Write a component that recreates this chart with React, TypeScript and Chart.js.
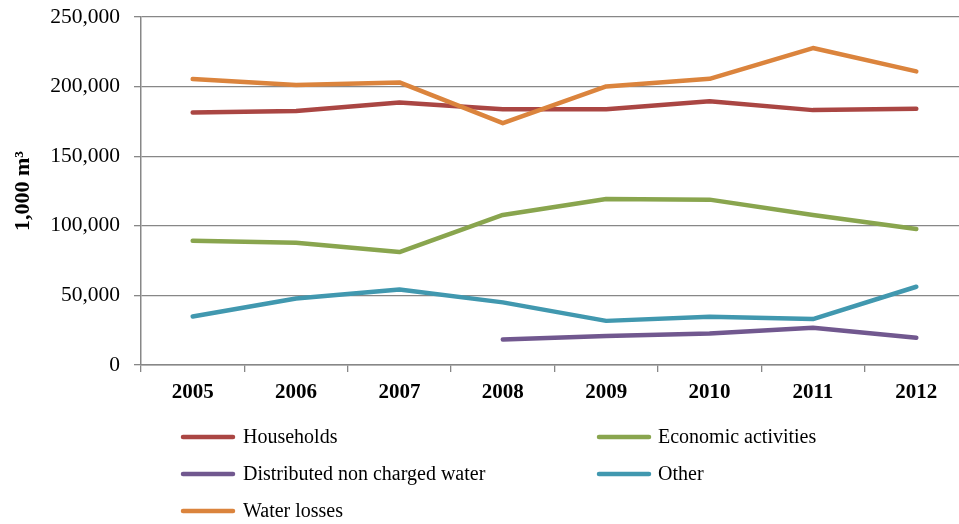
import React, { useEffect, useRef } from "react";
import { Chart, registerables } from "chart.js";

Chart.register(...registerables);

const years = ["2005", "2006", "2007", "2008", "2009", "2010", "2011", "2012"];
const households = [181400, 182400, 188500, 183800, 183800, 189500, 183100, 184000];
const economicActivities = [89300, 87800, 81100, 107800, 119300, 118800, 107800, 97700];
const distributedNonCharged = [null, null, null, 18400, 20900, 22600, 26700, 19500];
const other = [34900, 47800, 54300, 45000, 31700, 34600, 33000, 56200];
const waterLosses = [205400, 201100, 203000, 173700, 200100, 205600, 227700, 210900];
const yTicks = [0, 50000, 100000, 150000, 200000, 250000];

const FONT = '"Liberation Serif", "Times New Roman", serif';

const legendPlugin = {
  id: "twoColLegend",
  afterDraw(chart: any) {
    const ctx = chart.ctx;
    const cols = [
      { lx: 183, tx: 243 },
      { lx: 599, tx: 658 },
    ];
    const rows = [437, 474, 511];
    ctx.save();
    ctx.font = `20px ${FONT}`;
    ctx.textBaseline = "middle";
    ctx.textAlign = "left";
    chart.data.datasets.forEach((ds: any, i: number) => {
      const c = cols[i % 2];
      const y = rows[Math.floor(i / 2)];
      ctx.strokeStyle = ds.borderColor;
      ctx.lineWidth = 4.5;
      ctx.lineCap = "round";
      ctx.beginPath();
      ctx.moveTo(c.lx, y);
      ctx.lineTo(c.lx + 50, y);
      ctx.stroke();
      ctx.fillStyle = "#000";
      ctx.fillText(ds.label, c.tx, y + 1);
    });
    ctx.restore();
  },
};

export default function App() {
  const ref = useRef<HTMLCanvasElement | null>(null);
  useEffect(() => {
    if (!ref.current) return;
    const mk = (label: string, data: any[], color: string, order: number) => ({
      label,
      data,
      borderColor: color,
      backgroundColor: color,
      borderWidth: 4.5,
      pointRadius: 0,
      tension: 0,
      borderCapStyle: "round",
      borderJoinStyle: "round",
      order,
    });
    const chart = new Chart(ref.current, {
      type: "line",
      data: {
        labels: years,
        datasets: [
          mk("Households", households, "#AA4643", 1),
          mk("Economic activities", economicActivities, "#89A54E", 1),
          mk("Distributed non charged water", distributedNonCharged, "#71588F", 1),
          mk("Other", other, "#4198AF", 1),
          mk("Water losses", waterLosses, "#DB843D", 0),
        ] as any,
      },
      options: {
        responsive: false,
        animation: false,
        layout: { padding: { top: 17, right: 0, bottom: 0, left: 0 } },
        plugins: { legend: { display: false }, tooltip: { enabled: false } },
        scales: {
          x: {
            offset: true,
            grid: {
              offset: true,
              drawOnChartArea: false,
              drawTicks: true,
              tickLength: 7,
              color: "#878787",
              lineWidth: 1.3,
            },
            border: { color: "#878787", width: 1.5 },
            ticks: {
              color: "#000",
              font: { family: FONT, size: 21, weight: "bold" },
              padding: 8,
              maxRotation: 0,
            },
            afterFit: (s: any) => {
              s.height = 159;
              s.paddingLeft = 0;
              s.paddingRight = 0;
            },
          },
          y: {
            min: 0,
            max: 250000,
            afterBuildTicks: (s: any) => {
              s.ticks = yTicks.map((v) => ({ value: v }));
            },
            grid: {
              color: "#878787",
              lineWidth: 1.3,
              tickLength: 7,
            },
            border: { color: "#878787", width: 1.5 },
            ticks: {
              color: "#000",
              font: { family: FONT, size: 21.5 },
              padding: 14,
              callback: (v: any) => Number(v).toLocaleString("en-US"),
            },
            title: {
              display: true,
              text: "1,000 m³",
              color: "#000",
              font: { family: FONT, size: 22, weight: "bold" },
              padding: { top: 10, bottom: 0 },
            },
            afterFit: (s: any) => {
              s.width = 141;
              s.paddingTop = 0;
              s.paddingBottom = 0;
            },
          },
        },
      },
      plugins: [legendPlugin],
    });
    return () => chart.destroy();
  }, []);
  return (
    <div
      style={{
        position: "absolute",
        left: 0,
        top: 0,
        width: 959,
        height: 524,
        overflow: "hidden",
        background: "#fff",
      }}
    >
      <canvas ref={ref} width={968} height={524} style={{ display: "block" }} />
    </div>
  );
}
